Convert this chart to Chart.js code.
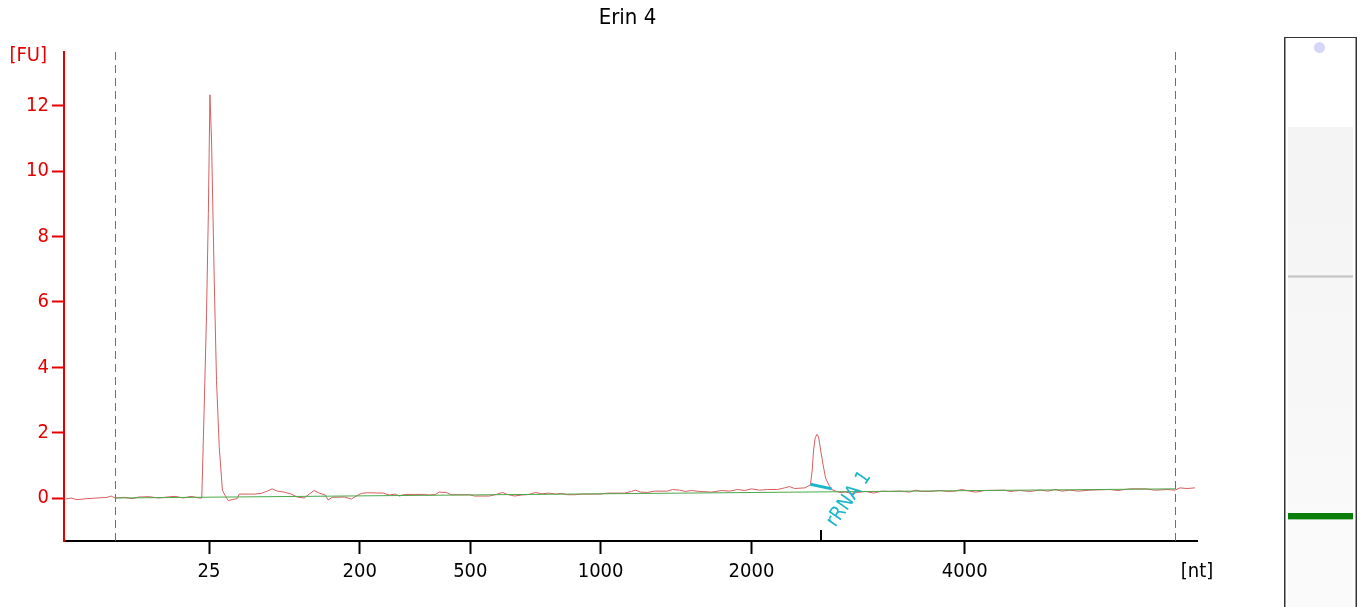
<!DOCTYPE html>
<html>
<head>
<meta charset="utf-8">
<title>Erin 4</title>
<script src="https://cdn.jsdelivr.net/npm/chart.js@4.4.0/dist/chart.umd.min.js"></script>
<style>
    body { margin: 0; background: #fff; overflow: hidden; }
    #wrap { position: absolute; left: 0; top: 0; width: 1240px; height: 607px; }
    #gel { position: absolute; left: 1284px; top: 37px; width: 71px; height: 600px; border: 1px solid #333; box-shadow: inset 1px 0 0 #999, inset -1px 0 0 #999; background: #fff; }
    #gel .smear { position: absolute; left: 3px; right: 3px; top: 89px; bottom: 0; background: linear-gradient(#f3f3f3, #f8f8f8 60%, #fbfbfb); }
    #gel .band { position: absolute; left: 3px; right: 3px; }
    #gel .rrna { top: 237px; height: 3px; background: linear-gradient(#e2e2e2, #c4c4c4, #e2e2e2); }
    #gel .marker { top: 475px; height: 6px; background: #0b7d0b; border-bottom: 1px solid #9fcc9f; }
    #gel .dot { position: absolute; left: 29px; top: 4px; width: 11px; height: 11px; border-radius: 50%; background: #d6d6fa; }
</style>
</head>
<body>
<div id="wrap"><canvas id="traceChart" width="1240" height="607"></canvas></div>
<div id="gel">
    <div class="dot"></div>
    <div class="smear"></div>
    <div class="band rrna"></div>
    <div class="band marker"></div>
</div>
<script>
// Sample name
const chartTitle = 'Erin 4';

// Migration time (s) and fluorescence [FU] of the trace
const traceTime = [
    19.09, 19.31, 19.57, 20.02, 20.46, 20.90, 21.08, 21.25, 21.65, 22.00,
    22.31, 22.75, 23.20, 23.55, 23.90, 24.26, 24.61, 24.96, 25.08, 25.18,
    25.29, 25.37, 25.44, 25.51, 25.63, 25.73, 25.85, 25.99, 26.10, 26.25,
    26.42, 26.64, 26.73, 27.39, 27.70, 27.97, 28.19, 28.41, 28.72, 29.03,
    29.29, 29.60, 29.82, 30.04, 30.26, 30.53, 30.66, 30.84, 31.37, 31.68,
    31.90, 32.12, 32.38, 33.09, 33.35, 33.62, 33.80, 34.02, 34.90, 35.12,
    35.39, 35.56, 35.87, 36.09, 36.89, 37.11, 37.77, 38.08, 38.35, 38.57,
    38.88, 39.19, 39.54, 39.80, 40.07, 40.42, 40.69, 40.95, 41.22, 41.57,
    41.84, 42.63, 42.98, 43.73, 44.04, 44.22, 44.44, 44.75, 45.06, 45.63,
    45.85, 46.16, 46.43, 46.69, 47.05, 47.58, 48.02, 48.37, 48.73, 49.04,
    49.34, 49.70, 50.05, 50.49, 50.80, 51.02, 51.24, 51.69, 51.94, 52.02,
    52.08, 52.15, 52.23, 52.30, 52.39, 52.50, 52.61, 52.75, 52.88, 53.06,
    53.23, 53.50, 53.76, 54.03, 54.38, 54.73, 55.09, 55.44, 55.88, 56.32,
    56.59, 56.85, 57.21, 57.65, 58.00, 58.31, 58.62, 58.97, 59.24, 59.64,
    60.52, 60.74, 61.18, 61.62, 62.07, 62.42, 62.73, 63.04, 63.39, 63.75,
    64.28, 65.16, 65.51, 66.04, 66.71, 67.15, 67.72, 68.03, 68.25, 68.56,
    68.91
];
const traceFU = [
    -0.03, 0.00, -0.05, -0.02, 0.00, 0.02, 0.06, 0.00, 0.02, -0.02,
    0.03, 0.04, 0.00, 0.03, 0.05, 0.00, 0.05, 0.00, 0.00, 2.59,
    5.65, 8.71, 12.34, 10.96, 6.67, 3.60, 1.57, 0.24, 0.09, -0.08,
    -0.05, -0.02, 0.12, 0.12, 0.14, 0.21, 0.28, 0.21, 0.18, 0.12,
    0.03, 0.00, 0.12, 0.23, 0.15, 0.09, -0.06, 0.02, 0.03, -0.03,
    0.06, 0.14, 0.16, 0.15, 0.09, 0.12, 0.06, 0.11, 0.11, 0.09,
    0.11, 0.18, 0.17, 0.10, 0.10, 0.06, 0.06, 0.11, 0.17, 0.11,
    0.06, 0.09, 0.11, 0.17, 0.13, 0.15, 0.12, 0.14, 0.10, 0.10,
    0.12, 0.12, 0.15, 0.15, 0.20, 0.24, 0.18, 0.17, 0.21, 0.21,
    0.26, 0.24, 0.20, 0.23, 0.20, 0.18, 0.23, 0.21, 0.26, 0.23,
    0.28, 0.24, 0.26, 0.26, 0.31, 0.35, 0.29, 0.31, 0.40, 0.86,
    1.47, 1.84, 1.95, 1.87, 1.47, 1.01, 0.61, 0.40, 0.26, 0.21,
    0.17, 0.18, 0.14, 0.17, 0.20, 0.15, 0.21, 0.20, 0.21, 0.18,
    0.24, 0.20, 0.20, 0.23, 0.20, 0.21, 0.26, 0.21, 0.18, 0.23,
    0.24, 0.20, 0.23, 0.20, 0.24, 0.21, 0.26, 0.21, 0.24, 0.21,
    0.24, 0.26, 0.23, 0.28, 0.28, 0.24, 0.26, 0.24, 0.31, 0.29,
    0.31
];

// Baseline (green) from start to end of the analysis window
const baselineTime = [21.25, 68.03];
const baselineFU = [0.00, 0.28];

// Analysis window edges (dashed green lines)
const windowEdges = [21.25, 68.03];

// rRNA peak annotation
const peakLabel = 'rRNA 1';
const peakStartTime = 51.94;
const peakEndTime = 52.88;
const peakStartFU = 0.42;
const peakEndFU = 0.28;
const peakMarkTime = 52.39;

// Axis ticks
const xTickTimes = [25.40, 32.05, 36.93, 42.68, 49.34, 58.75, 69.00];
const xTickLabels = ['25', '200', '500', '1000', '2000', '4000', '[nt]'];
const yTicks = [0, 2, 4, 6, 8, 10, 12];
const yUnit = '[FU]';

const RED = '#e60000';
const CYAN = '#1db6c9';
const FONT = '"DejaVu Sans Condensed", "DejaVu Sans"';

document.addEventListener("DOMContentLoaded", function () {
    drawTraceChart();
});

// Function to turn two arrays into {x, y} points
function toPoints(xs, ys) {
    return xs.map((x, i) => ({ x: x, y: ys[i] }));
}

// Plugin for the dashed window lines, the peak label and the text around the axes
const extrasPlugin = {
    id: 'extras',
    beforeDatasetsDraw(chart) {
        const ctx = chart.ctx;
        const a = chart.chartArea;
        const xs = chart.scales.x;
        ctx.save();
        ctx.strokeStyle = '#2f9a2f';
        ctx.lineWidth = 1;
        ctx.setLineDash([8, 5]);
        windowEdges.forEach(t => {
            const px = Math.round(xs.getPixelForValue(t)) + 0.5;
            ctx.beginPath();
            ctx.moveTo(px, a.top);
            ctx.lineTo(px, a.bottom);
            ctx.stroke();
        });
        ctx.restore();
    },
    afterDatasetsDraw(chart) {
        const ctx = chart.ctx;
        const a = chart.chartArea;
        const xs = chart.scales.x;
        const ys = chart.scales.y;
        ctx.save();

        // title
        ctx.fillStyle = '#000';
        ctx.font = '22px ' + FONT;
        ctx.textAlign = 'center';
        ctx.textBaseline = 'middle';
        ctx.fillText(chartTitle, (a.left + a.right) / 2 - 3, 18);

        // y unit
        ctx.fillStyle = RED;
        ctx.font = '20px ' + FONT;
        ctx.textAlign = 'right';
        ctx.fillText(yUnit, 47, 56);

        // peak base line
        ctx.strokeStyle = CYAN;
        ctx.lineWidth = 3;
        ctx.beginPath();
        ctx.moveTo(xs.getPixelForValue(peakStartTime), ys.getPixelForValue(peakStartFU));
        ctx.lineTo(xs.getPixelForValue(peakEndTime), ys.getPixelForValue(peakEndFU));
        ctx.stroke();

        // small tick above the axis
        const mx = Math.round(xs.getPixelForValue(peakMarkTime));
        ctx.strokeStyle = '#000';
        ctx.lineWidth = 2;
        ctx.beginPath();
        ctx.moveTo(mx, a.bottom);
        ctx.lineTo(mx, a.bottom - 11);
        ctx.stroke();

        // rotated peak label
        ctx.translate(mx + 28, a.bottom - 42);
        ctx.rotate(-55 * Math.PI / 180);
        ctx.fillStyle = CYAN;
        ctx.font = '20px ' + FONT;
        ctx.textAlign = 'center';
        ctx.textBaseline = 'middle';
        ctx.fillText(peakLabel, 0, 0);
        ctx.restore();
    }
};

// Function to draw the electropherogram
function drawTraceChart() {
    const ctx = document.getElementById('traceChart').getContext('2d');
    new Chart(ctx, {
        type: 'line',
        data: {
            datasets: [{
                label: 'Baseline',
                data: toPoints(baselineTime, baselineFU),
                borderColor: '#4aa84a',
                borderWidth: 1,
                pointRadius: 0
            }, {
                label: chartTitle,
                data: toPoints(traceTime, traceFU),
                borderColor: '#d65e5e',
                borderWidth: 1,
                pointRadius: 0,
                tension: 0
            }]
        },
        options: {
            responsive: false,
            animation: false,
            layout: { padding: { left: 0, top: 52, right: 43, bottom: 0 } },
            plugins: {
                legend: { display: false },
                tooltip: { enabled: false },
                title: { display: false }
            },
            scales: {
                x: {
                    type: 'linear',
                    min: 19,
                    max: 69,
                    afterBuildTicks: s => { s.ticks = xTickTimes.map(v => ({ value: v })); },
                    afterFit: s => { s.height = 66; },
                    ticks: {
                        autoSkip: false,
                        maxRotation: 0,
                        padding: 6,
                        color: '#000',
                        font: { family: FONT, size: 20 },
                        callback: (v, i) => xTickLabels[i]
                    },
                    grid: {
                        drawOnChartArea: false,
                        tickLength: 13,
                        tickWidth: 2,
                        tickColor: c => c.index === xTickLabels.length - 1 ? 'rgba(0,0,0,0)' : '#000'
                    },
                    border: { color: '#000', width: 2 }
                },
                y: {
                    min: -1.316,
                    max: 13.65,
                    afterBuildTicks: s => { s.ticks = yTicks.map(v => ({ value: v })); },
                    afterFit: s => { s.width = 64; },
                    ticks: {
                        padding: 3,
                        color: RED,
                        font: { family: FONT, size: 20 }
                    },
                    grid: {
                        drawOnChartArea: false,
                        tickLength: 12,
                        tickWidth: 2,
                        tickColor: RED
                    },
                    border: { color: RED, width: 2 }
                }
            }
        },
        plugins: [extrasPlugin]
    });
}
</script>
</body>
</html>
